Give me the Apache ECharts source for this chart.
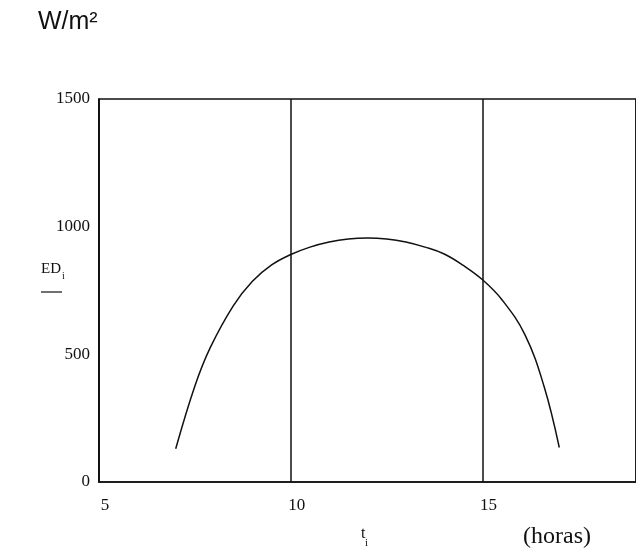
<!DOCTYPE html>
<html><head><meta charset="utf-8">
<script src="https://cdn.jsdelivr.net/npm/echarts@6/dist/echarts.min.js"></script>
<style>html,body{margin:0;padding:0;background:#fff}#c{width:636px;height:556px}</style>
</head><body><div id="c"></div>
<script>
const hours = [7.0, 7.5, 7.9, 8.5, 9.0, 9.5, 10.0, 10.5, 11.0, 11.5, 12.0, 12.5, 13.0, 13.5, 14.0, 14.5, 15.0, 15.5, 16.1, 16.6, 17.0];
const irradiance = [130, 376, 526, 690, 786, 850, 891, 920, 940, 952, 956, 952, 940, 920, 893, 848, 792, 715, 578, 376, 135];
const xTicks = [5, 10, 15];
const yTicks = [0, 500, 1000, 1500];

const chart = echarts.init(document.getElementById('c'), null, {renderer: 'canvas'});
const serif = '"Liberation Serif", "DejaVu Serif", serif';
chart.setOption({
  animation: false,
  backgroundColor: '#fff',
  grid: {left: 99, right: -2, top: 99, bottom: 74, show: true, borderColor: '#111', borderWidth: 1.5, containLabel: false},
  xAxis: {
    type: 'value', min: xTicks[0], max: 19, interval: 5,
    axisLine: {show: true, lineStyle: {color: '#111', width: 1.5}},
    axisTick: {show: false},
    axisLabel: {color: '#111', fontFamily: serif, fontSize: 17, margin: 15, showMaxLabel: false,
      padding: [0, 0, 0, 12],
      formatter: v => xTicks.includes(v) ? String(v) : ''},
    splitLine: {show: true, lineStyle: {color: '#111', width: 1.5}}
  },
  yAxis: {
    type: 'value', min: yTicks[0], max: yTicks[yTicks.length - 1], interval: 500,
    axisLine: {show: true, lineStyle: {color: '#111', width: 1.5}},
    axisTick: {show: false},
    axisLabel: {color: '#111', fontFamily: serif, fontSize: 17, margin: 9,
      formatter: v => yTicks.includes(v) ? String(v) : ''},
    splitLine: {show: false}
  },
  series: [{
    type: 'line', data: hours.map((h, i) => [h, irradiance[i]]),
    smooth: 0.4, showSymbol: false,
    lineStyle: {color: '#111', width: 1.5}
  }],
  graphic: [
    {type: 'text', left: 38, top: 10, style: {text: 'W/m²', font: '25px "Liberation Sans", Arial, sans-serif', fill: '#111'}},
    {type: 'text', left: 41, top: 262, style: {text: 'ED', font: '15px ' + serif, fill: '#111'}},
    {type: 'text', left: 62, top: 271, style: {text: 'i', font: '10px ' + serif, fill: '#111'}},
    {type: 'line', shape: {x1: 41, y1: 292, x2: 62, y2: 292}, style: {stroke: '#111', lineWidth: 1.2}},
    {type: 'text', left: 361, top: 526, style: {text: 't', font: '16px ' + serif, fill: '#111'}},
    {type: 'text', left: 365, top: 538, style: {text: 'i', font: '11px ' + serif, fill: '#111'}},
    {type: 'text', left: 523, top: 525, style: {text: '(horas)', font: '24px ' + serif, fill: '#111'}}
  ]
});
</script></body></html>
